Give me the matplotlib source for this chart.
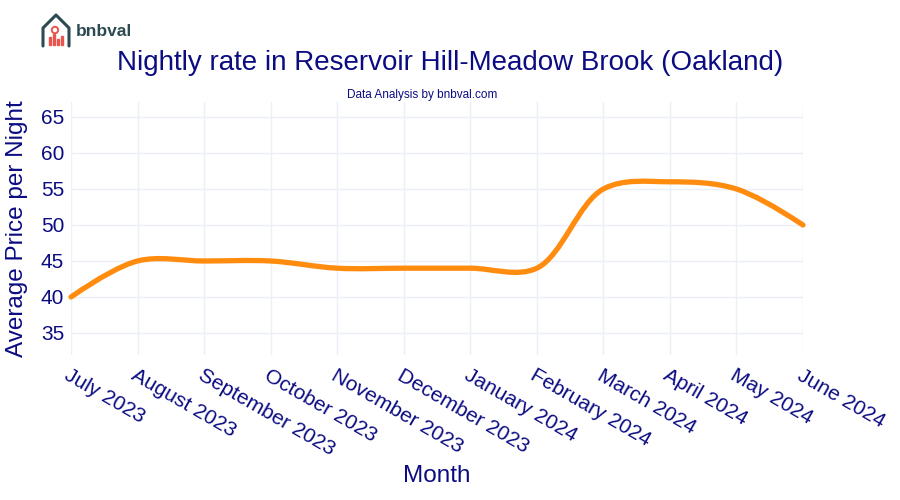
import numpy as np
import matplotlib.pyplot as plt
from matplotlib.path import Path
from matplotlib.patches import PathPatch, Rectangle, Circle

plt.rcParams['font.family'] = ['Liberation Sans', 'DejaVu Sans']

months = ['July 2023', 'August 2023', 'September 2023', 'October 2023',
          'November 2023', 'December 2023', 'January 2024', 'February 2024',
          'March 2024', 'April 2024', 'May 2024', 'June 2024']
price = [40, 45, 45, 45, 44, 44, 44, 44, 55, 56, 55, 50]

navy = '#0c0c82'
orange = '#ff8c0f'
grid_c = '#ebeff7'

W, H = 900, 500
fig = plt.figure(figsize=(9, 5), dpi=100)

# plot area in pixels
x0, x1 = 71, 803
ymin, ymax = 32, 67.1
py_top, py_bot = 117 - 2.1 * 7.2, 333 + 3 * 7.2
ax = fig.add_axes([x0 / W, 1 - py_bot / H, (x1 - x0) / W, (py_bot - py_top) / H])

xs = np.arange(len(months))
ys = np.array(price, dtype=float)

# pixel scale, the spline tangents are worked out in screen space
sx = (x1 - x0) / (len(months) - 1)
sy = (py_bot - py_top) / (ymax - ymin)


def tangent(p0, p1, p2, smooth=1.0):
    d1 = p0 - p1
    d2 = p2 - p1
    d1a = np.hypot(*d1) ** 0.5
    d2a = np.hypot(*d2) ** 0.5
    num = (d2a * d2a * d1 - d1a * d1a * d2) * smooth
    den1 = 3 * d2a * (d1a + d2a)
    den2 = 3 * d1a * (d1a + d2a)
    return p1 + num / den1, p1 - num / den2


def spline_path(x, y):
    pts = np.column_stack([x * sx, y * sy])
    tans = [tangent(pts[i - 1], pts[i], pts[i + 1]) for i in range(1, len(pts) - 1)]
    verts = [pts[0], tans[0][0], pts[1]]
    codes = [Path.MOVETO, Path.CURVE3, Path.CURVE3]
    for i in range(2, len(pts) - 1):
        verts += [tans[i - 2][1], tans[i - 1][0], pts[i]]
        codes += [Path.CURVE4] * 3
    verts += [tans[-1][1], pts[-1]]
    codes += [Path.CURVE3] * 2
    verts = np.array(verts) / [sx, sy]
    return Path(verts, codes)


ax.add_patch(PathPatch(spline_path(xs, ys), facecolor='none',
                       edgecolor=orange, lw=3.8, capstyle='round',
                       joinstyle='round', zorder=3, clip_on=False))

ax.set_xlim(0, len(months) - 1)
ax.set_ylim(ymin, ymax)
ax.set_yticks([35, 40, 45, 50, 55, 60, 65])
ax.set_xticks(xs)
ax.set_xticklabels(months, rotation=-30, ha='left', va='top',
                   rotation_mode='anchor')
ax.tick_params(axis='both', length=0, labelsize=15, labelcolor=navy)
ax.tick_params(axis='x', pad=8)
ax.tick_params(axis='y', pad=5)
ax.grid(True, color=grid_c, lw=1)
ax.set_axisbelow(True)
for sp in ax.spines.values():
    sp.set_visible(False)

ax.set_xlabel('Month', fontsize=17.5, color=navy, labelpad=4)
ax.set_ylabel('Average Price per Night', fontsize=17.5, color=navy, labelpad=9)

fig.text(450 / W, 1 - 63 / H, 'Nightly rate in Reservoir Hill-Meadow Brook (Oakland)',
         ha='center', va='center', fontsize=20, color=navy)
fig.text(422 / W, 1 - 95 / H, 'Data Analysis by bnbval.com',
         ha='center', va='center', fontsize=8.5, color=navy)

# logo
teal = '#2d4a50'
lx = fig.add_axes([40 / W, 1 - 48 / H, 32 / W, 36 / H])
lx.set_xlim(0, 32)
lx.set_ylim(0, 36)
lx.axis('off')
lx.plot([3, 3, 16, 29, 29], [2, 20, 33, 20, 2], color=teal, lw=2.2,
        solid_capstyle='round', solid_joinstyle='round')
lx.add_patch(Circle((15, 18), 3.2, fill=False, ec='#e8554e', lw=1.4))
for bx, bh in zip([9, 13, 17, 21], [8, 11, 6, 9]):
    lx.add_patch(Rectangle((bx, 3), 2.2, bh, color='#e8554e'))
fig.text(76 / W, 1 - 31 / H, 'bnbval', ha='left', va='center',
         fontsize=12.5, fontweight='bold', color=teal)

fig.savefig('out.png', dpi=100)
